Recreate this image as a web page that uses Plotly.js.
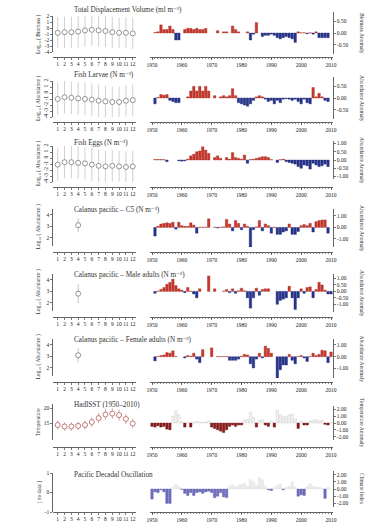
<!DOCTYPE html>
<html><head><meta charset="utf-8">
<script src="https://cdn.plot.ly/plotly-3.0.1.min.js"></script>
<style>html,body{margin:0;padding:0;background:#fff}#chart{width:370px;height:525px}</style>
</head><body><div id="chart"></div>
<script>
// ---------- DATA ----------
const years = [1950,1951,1952,1953,1954,1955,1956,1957,1958,1959,
  1960,1961,1962,1963,1964,1965,1966,1967,1968,1969,
  1970,1971,1972,1973,1974,1975,1976,1977,1978,1979,
  1980,1981,1982,1983,1984,1985,1986,1987,1988,1989,
  1990,1991,1992,1993,1994,1995,1996,1997,1998,1999,
  2000,2001,2002,2003,2004,2005,2006,2007,2008,2009,2010];
const yearTicks = [1950,1960,1970,1980,1990,2000,2010];
const months = [1,2,3,4,5,6,7,8,9,10,11,12];

const titles = ['Total Displacement Volume (ml m⁻³)','Fish Larvae (N m⁻³)','Fish Eggs (N m⁻³)',
  'Calanus pacific – C5 (N m⁻³)','Calanus pacific – Male adults (N m⁻³)','Calanus pacific – Female adults (N m⁻³)',
  'HadISST (1950–2010)','Pacific Decadal Oscillation'];
const leftLabels = ['Log₁₀ ( Biomass )','Log₁₀ ( Abundance )','Log₁₀ ( Abundance )','Log₁₀ ( Abundance )',
  'Log₁₀ ( Abundance )','Log₁₀ ( Abundance )','Temperature','[ no data ]'];
const rightLabels = ['Biomass Anomaly','Abundance Anomaly','Abundance Anomaly','Abundance Anomaly','Abundance Anomaly','Abundance Anomaly','Temperature Anomaly','Climate Index'];

// monthly climatology (left panels)
const tdvMean = [-0.8,-0.7,-0.7,-0.6,-0.4,-0.3,-0.4,-0.5,-0.7,-0.8,-0.8,-0.9];
const tdvErr  = [2.6,2.6,2.6,2.7,2.7,2.7,2.7,2.6,2.6,2.5,2.6,2.6];
const larvaeMean = [-1.0,-0.7,-0.8,-0.9,-1.0,-1.1,-1.3,-1.4,-1.5,-1.5,-1.3,-1.2];
const larvaeErr  = [2.7,2.7,2.7,2.7,2.7,2.7,2.7,2.6,2.6,2.6,2.6,2.6];
const eggsMean = [-1.1,-0.7,-0.7,-0.8,-0.9,-1.1,-1.3,-1.4,-1.3,-1.4,-1.5,-1.4];
const eggsErr  = [2.7,2.7,2.7,2.7,2.7,2.7,2.7,2.6,2.6,2.6,2.6,2.6];
const c5Mean = [null,null,null,3.1,null,null,null,null,null,null,null,null];
const c5Err  = [null,null,null,0.6,null,null,null,null,null,null,null,null];
const maleMean = [null,null,null,2.8,null,null,null,null,null,null,null,null];
const maleErr  = [null,null,null,0.8,null,null,null,null,null,null,null,null];
const femaleMean = [null,null,null,3.1,null,null,null,null,null,null,null,null];
const femaleErr  = [null,null,null,0.6,null,null,null,null,null,null,null,null];
const sstMean = [14.5,14.0,14.0,14.2,14.5,15.5,16.8,18.0,18.3,17.8,16.5,15.0];
const sstErr  = [1.5,1.4,1.4,1.4,1.5,1.6,1.7,1.8,1.8,1.8,1.7,1.6];
const pdoMean = [];
const pdoErr  = [];

// annual anomalies (right panels), 1950..2010
const tdvAnom = [null,0.02,0.05,0.35,0.15,0.15,0.3,0.15,-0.3,-0.3,
  null,0.15,0.2,0.2,0.15,0.2,0.15,0.15,0.2,null,
  null,null,0.1,null,0.05,0.05,null,0.3,0.15,0.05,
  null,null,0.05,-0.3,-0.05,0.45,null,-0.15,-0.1,-0.1,
  -0.05,-0.1,-0.2,-0.25,-0.2,-0.15,-0.2,-0.25,-0.4,0.05,
  0.01,0.01,-0.03,0.01,-0.05,0.05,-0.2,-0.2,-0.2,-0.2,null];
const larvaeAnom = [null,-0.25,0.02,0.15,0.12,0.15,-0.1,-0.15,-0.2,-0.2,
  null,null,0.05,0.3,0.5,0.3,0.5,0.3,0.5,0.3,
  null,0.1,null,0.05,0.1,0.05,0.1,0.4,0.1,-0.2,
  -0.25,-0.3,-0.35,-0.25,-0.1,0.05,0.1,0.05,-0.05,-0.15,
  -0.1,-0.25,-0.1,-0.2,-0.05,-0.03,-0.05,-0.1,-0.05,-0.15,
  -0.25,-0.05,-0.2,-0.25,0.45,0.05,0.2,0.05,-0.1,-0.15,null];
const eggsAnom = [null,0.03,0.03,0.03,0.02,-0.1,null,null,null,-0.05,
  -0.07,-0.05,0.05,0.25,0.35,0.5,0.55,0.8,0.6,0.4,
  null,0.15,0.25,0.1,null,0.15,0.05,0.45,0.15,0.1,
  0.05,0.3,-0.2,0.03,0.05,0.1,0.15,0.2,0.2,0.15,
  0.02,null,-0.15,0.02,0.05,-0.1,-0.15,-0.2,-0.25,-0.4,
  -0.5,-0.3,-0.35,-0.55,-0.2,-0.3,-0.4,-0.35,-0.25,-0.4,null];
const c5Anom = [null,-0.75,0.1,0.3,0.35,0.4,0.35,0.45,-0.15,0.45,
  0.15,0.1,0.1,0.4,0.2,-0.5,0.02,0.02,0.02,0.75,
  null,0.02,-0.05,0.02,0.05,0.7,0.3,-0.3,0.6,0.35,
  -0.2,0.3,0.1,-1.7,-0.2,0.05,0.6,-0.3,0.3,0.15,
  -0.5,0.02,-0.6,-0.6,-0.4,-0.3,0.3,-0.6,-0.6,-0.35,
  0.15,0.25,0.15,0.35,-0.4,0.5,0.6,0.65,0.65,-0.5,null];
const maleAnom = [null,-0.15,0.02,0.15,0.3,0.55,0.7,0.95,0.45,0.2,
  0.1,-0.1,0.3,0.02,-0.2,-0.5,0.2,null,null,1.2,
  null,0.2,null,null,0.02,0.15,-0.1,0.2,-0.15,0.05,
  0.25,0.05,-0.5,-1.3,-0.5,0.25,-0.3,0.15,0.2,0.2,
  null,null,-1.0,-0.7,-0.6,-0.5,0.4,-0.5,-1.4,-0.5,
  0.2,-0.15,0.3,0.35,-0.5,0.15,0.7,0.5,0.1,-0.2,-0.2];
const femaleAnom = [null,-0.35,0.02,0.1,0.15,0.35,0.3,0.5,0.02,null,
  null,-0.1,0.1,0.05,0.3,-0.2,-0.5,0.6,null,null,
  0.75,null,0.02,0.02,0.02,0.02,-0.3,-0.3,-0.3,-0.2,
  0.05,0.2,0.15,-0.6,-0.95,-0.2,0.3,-0.1,0.9,0.7,
  0.3,null,-1.8,-1.1,-0.7,-0.7,0.2,-0.3,-0.6,0.02,
  0.1,-0.1,-0.4,0.02,0.3,0.1,0.2,0.55,0.5,-0.5,0.4];
const sstAnom = [-0.5,-0.6,-0.4,-0.6,-0.5,-0.9,-1.0,1.0,1.8,1.2,
  0.2,-0.6,0.1,-0.6,0.1,0.2,0.1,0.1,0.1,0.3,
  -0.6,-0.8,-1.0,-1.2,-1.4,-1.0,-0.5,-0.3,-0.5,-0.3,
  -0.3,0.4,0.5,1.6,0.8,-0.6,0.4,0.5,-0.3,-0.5,
  0.3,-0.6,1.9,1.2,1.0,0.9,1.2,1.3,0.6,-0.8,
  0.3,-0.3,-0.3,0.3,0.4,0.5,0.3,0.4,-0.2,-0.3,0.1];
const pdoIndex = [-1.4,-0.4,-0.5,-0.1,-0.4,-2.0,-2.0,0.2,0.6,0.3,
  -0.05,-0.6,-0.9,-0.5,-0.9,-0.5,-0.4,-0.6,-0.4,-0.3,
  -0.5,-1.2,-1.0,-0.5,-1.1,-1.2,0.3,0.6,0.3,0.5,
  0.6,0.8,0.4,1.3,1.0,0.5,1.6,1.3,0.4,-0.1,
  -0.2,0.2,0.5,0.7,-0.1,0.2,0.4,1.0,0.3,-1.0,
  -0.8,-0.9,0.3,0.7,0.4,0.3,0.2,0.1,-1.3,0.2,null];

const climMeans = [tdvMean,larvaeMean,eggsMean,c5Mean,maleMean,femaleMean,sstMean,pdoMean];
const climErrs  = [tdvErr,larvaeErr,eggsErr,c5Err,maleErr,femaleErr,sstErr,pdoErr];
const anoms = [tdvAnom,larvaeAnom,eggsAnom,c5Anom,maleAnom,femaleAnom,sstAnom,pdoIndex];

// ---------- STYLE / GEOMETRY ----------
const W = 370, H = 525;
const FONT = 'Liberation Serif, DejaVu Serif, serif';
const geom = [
  {o:0,   tY:10, lDom:[16,52], lRange:[-4,2],     lTicks:[2,1,0,-1,-2,-3,-4], lAng:0,   rDom:[12,54], rRange:[-0.9,0.9],   rTicks:[0.5,0,-0.5]},
  {o:65,  tY:10, lDom:[16,52], lRange:[-4,2],     lTicks:[2,1,0,-1,-2,-3,-4], lAng:-90, rDom:[12,54], rRange:[-0.9,0.9],   rTicks:[0.5,0,-0.5]},
  {o:130, tY:13, lDom:[16,52], lRange:[-4,2],     lTicks:[2,1,0,-1,-2,-3,-4], lAng:-90, rDom:[11,49], rRange:[-1.15,1.15], rTicks:[1,0.5,0,-0.5,-1]},
  {o:195, tY:15, lDom:[14,51], lRange:[1.3,4.5],  lTicks:[2,3,4],             lAng:0,   rDom:[14,52], rRange:[-1.7,1.6],   rTicks:[1,0,-1]},
  {o:260, tY:15, lDom:[14,51], lRange:[1.3,4.5],  lTicks:[2,3,4],             lAng:0,   rDom:[14,52], rRange:[-1.6,1.35],  rTicks:[1,0.5,0,-0.5,-1]},
  {o:325, tY:15, lDom:[14,51], lRange:[1.3,4.5],  lTicks:[2,3,4],             lAng:0,   rDom:[14,53], rRange:[-1.8,1.5],   rTicks:[1,0,-1]},
  {o:390, tY:15, lDom:[14,50], lRange:[9.5,21.5], lTicks:[15,20],             lAng:0,   rDom:[16,50], rRange:[-2.5,2.5],   rTicks:[2,1,0,-1,-2]},
  {o:455, tY:20, lDom:[18,57], lRange:[-1,1],     lTicks:[-1,0,1],            lAng:0,   rDom:[16,52], rRange:[-2.5,2.5],   rTicks:[2,1,0,-1,-2]}
];
const posCol = ['#c8382c','#c8382c','#c8382c','#c8382c','#c8382c','#c8382c','#f4f4f4','#ececec'];
const posLine= ['#a52a20','#a52a20','#a52a20','#a52a20','#a52a20','#a52a20','#c4c4c4','#dddddd'];
const negCol = ['#27348f','#27348f','#27348f','#27348f','#27348f','#27348f','#8c1d1d','#6f6fbf'];
const negLine= ['#1c2670','#1c2670','#1c2670','#1c2670','#1c2670','#1c2670','#6e1212','#5858a8'];
const circCol = ['#7a7a7a','#7a7a7a','#7a7a7a','#7a7a7a','#7a7a7a','#7a7a7a','#b35a5a','#7a7a7a'];
const errCol  = ['#c4c4c4','#c4c4c4','#c4c4c4','#b0b0b0','#b0b0b0','#b0b0b0','#c98a8a','#c4c4c4'];

const px = p => p / W;
const py = p => 1 - p / H;

const traces = [];
const layout = {
  width: W, height: H, margin:{l:0,r:0,t:0,b:0},
  paper_bgcolor:'#fff', plot_bgcolor:'rgba(0,0,0,0)', showlegend:false,
  font:{family:FONT, size:5.5, color:'#222'},
  annotations:[]
};
const axBase = {showline:true, linecolor:'#222', linewidth:0.7, ticks:'outside', ticklen:2, tickwidth:0.6,
  tickcolor:'#222', showgrid:false, zeroline:false, fixedrange:true, tickfont:{family:FONT,size:5.5,color:'#222'}};

geom.forEach((g,i) => {
  const li = 2*i+1, ri = 2*i+2;
  const lx = 'x'+li, ly = 'y'+li, rx = 'x'+ri, ry = 'y'+ri;
  traces.push({type:'scatter', mode:'markers', x: climMeans[i].length ? months : [], y: climMeans[i],
    xaxis:lx, yaxis:ly, hoverinfo:'skip',
    error_y:{type:'data', array:climErrs[i], visible:true, color:errCol[i], thickness:0.8, width:0},
    marker:{symbol:'circle', size:5, color:'#fff', line:{color:circCol[i], width:0.8}}});
  const a = anoms[i];
  traces.push({type:'bar', x:years, y:a.map(v => (v!==null && v>=0) ? v : null), xaxis:rx, yaxis:ry,
    width:0.82, marker:{color:posCol[i], line:{color:posLine[i], width:0.4}}, hoverinfo:'skip'});
  traces.push({type:'bar', x:years, y:a.map(v => (v!==null && v<0) ? v : null), xaxis:rx, yaxis:ry,
    width:0.82, marker:{color:negCol[i], line:{color:negLine[i], width:0.4}}, hoverinfo:'skip'});

  const xAxY = py(g.o + 57);
  layout['xaxis'+(li===1?'':li)] = Object.assign({}, axBase, {
    domain:[px(53), px(136)], range:[0.31,12.48], anchor:'free', position:xAxY,
    tickmode:'array', tickvals:months, ticktext:months.map(String), tickangle:0});
  layout['yaxis'+li] = Object.assign({}, axBase, {
    domain:[py(g.o+g.lDom[1]), py(g.o+g.lDom[0])], range:g.lRange, anchor:lx,
    tickmode:'array', tickvals:g.lTicks, ticktext:g.lTicks.map(String), tickangle:g.lAng});
  layout['xaxis'+ri] = Object.assign({}, axBase, {
    domain:[px(150), px(333)], range:[1949.33,2010.67], anchor:'free', position:xAxY,
    tickmode:'array', tickvals:yearTicks, ticktext:yearTicks.map(String), tickangle:0, ticklen:2.5,
    minor:{tickmode:'linear', tick0:1950, dtick:1, ticks:'outside', ticklen:1.5, tickwidth:0.5, tickcolor:'#222'}});
  layout['yaxis'+ri] = Object.assign({}, axBase, {
    domain:[py(g.o+g.rDom[1]), py(g.o+g.rDom[0])], range:g.rRange, anchor:rx, side:'right',
    tickmode:'array', tickvals:g.rTicks, ticktext:g.rTicks.map(v=>v.toFixed(2)), tickangle:0});

  layout.annotations.push({text:titles[i], xref:'paper', yref:'paper', x:px(72), y:py(g.o+g.tY),
    xanchor:'left', yanchor:'middle', showarrow:false, font:{family:FONT,size:7.2,color:'#333'}});
  layout.annotations.push({text:leftLabels[i], xref:'paper', yref:'paper', x:px(38), y:py(g.o+(g.lDom[0]+g.lDom[1])/2),
    xanchor:'center', yanchor:'middle', textangle:-90, showarrow:false, font:{family:FONT,size:5.5,color:'#333'}});
  layout.annotations.push({text:rightLabels[i], xref:'paper', yref:'paper', x:px(362), y:py(g.o+(g.rDom[0]+g.rDom[1])/2),
    xanchor:'center', yanchor:'middle', textangle:90, showarrow:false, font:{family:FONT,size:5.5,color:'#333'}});
});
layout.barmode = 'overlay';

Plotly.newPlot('chart', traces, layout, {staticPlot:true, displayModeBar:false});
</script>
</body></html>
